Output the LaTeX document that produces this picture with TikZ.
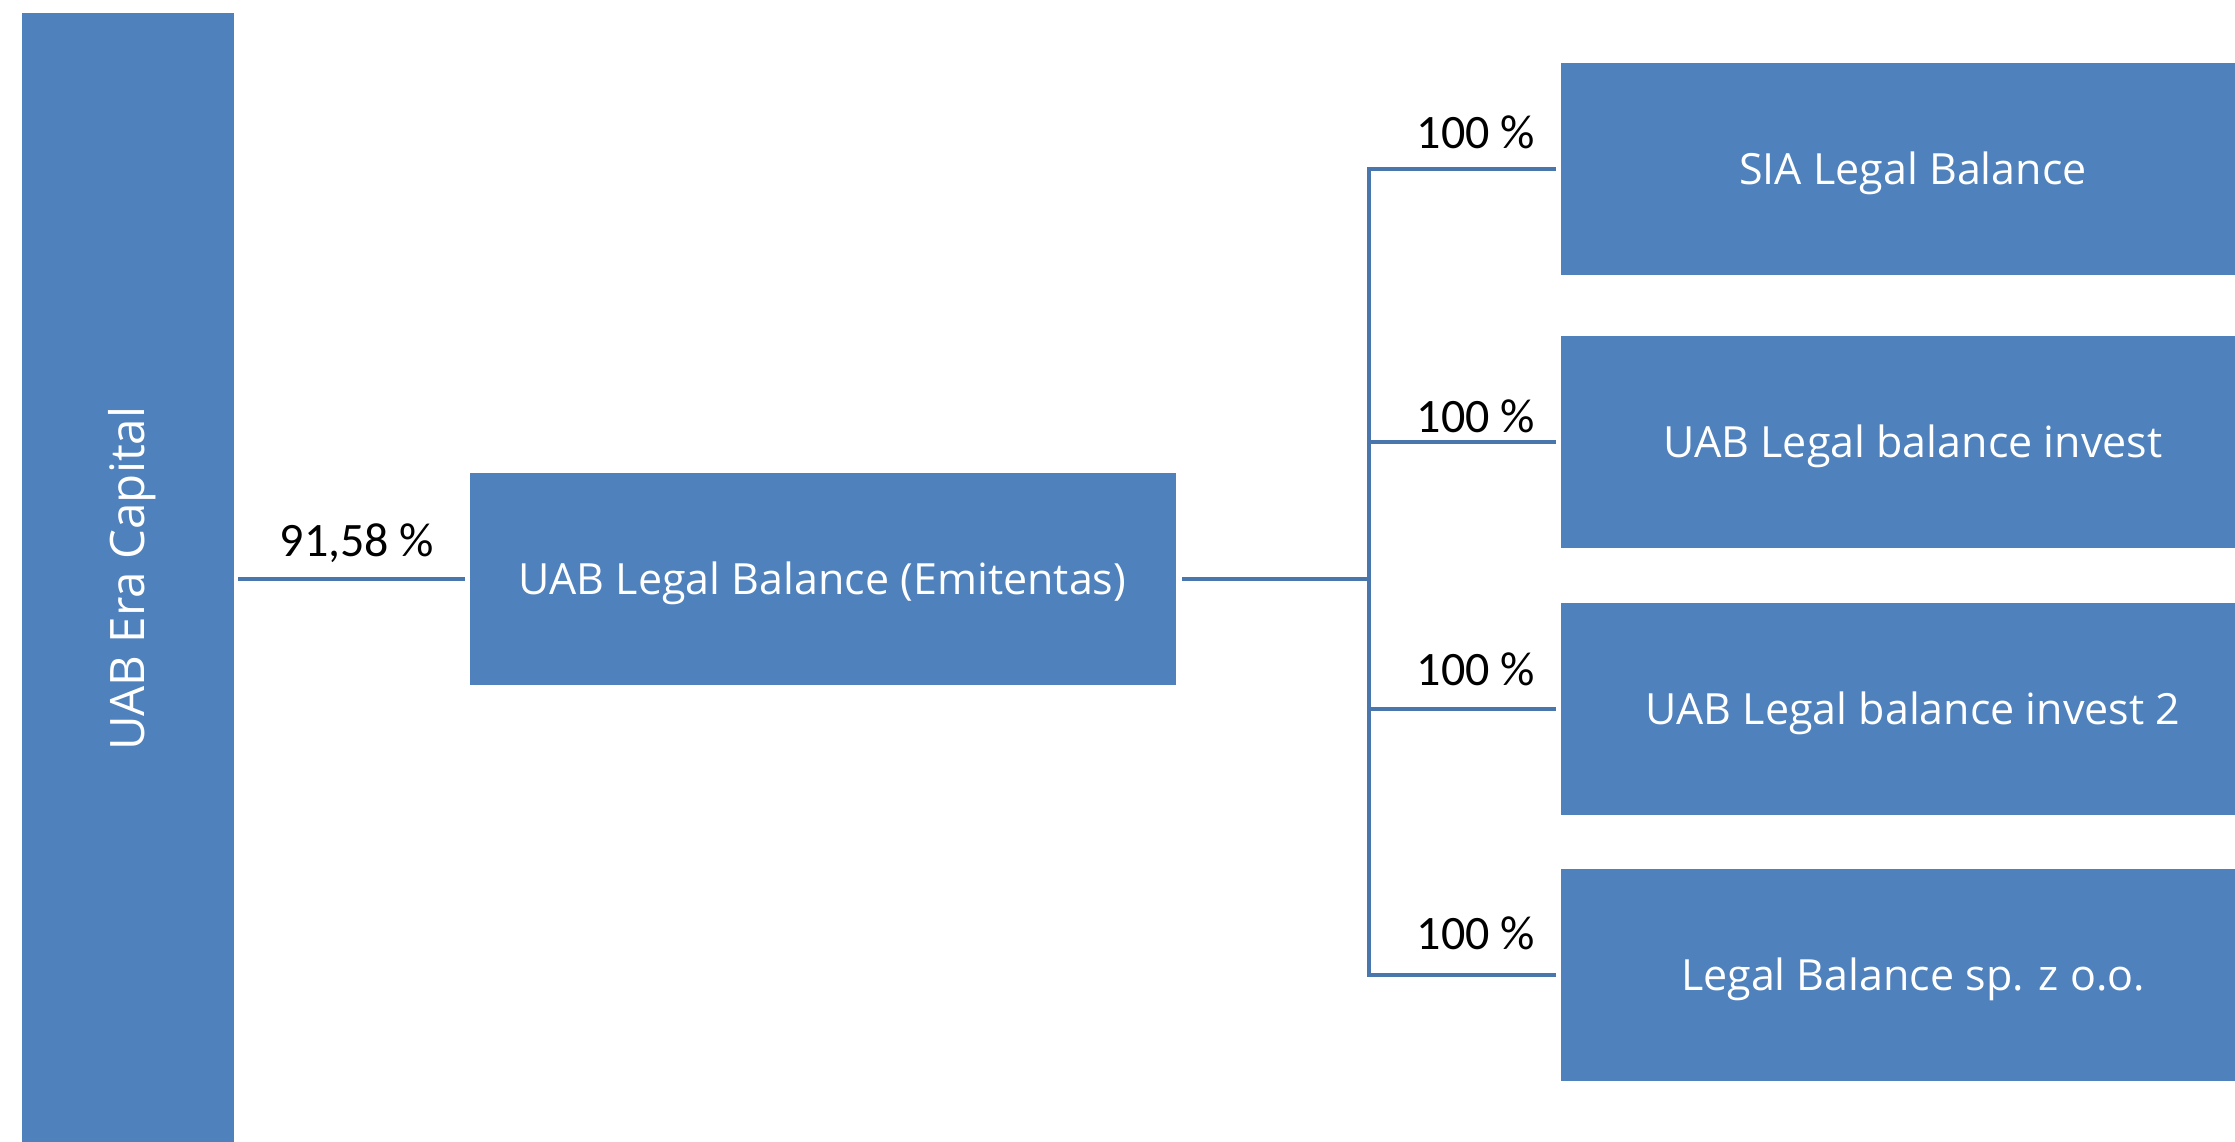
\documentclass[tikz,border=0pt]{standalone}
\usepackage{fontspec}
\setmainfont{Carlito}
\newfontfamily\boxfont{Open Sans}
\usetikzlibrary{calc}
\definecolor{boxblue}{HTML}{4F81BD}
\definecolor{lineblue}{HTML}{4A76AE}
\begin{document}
\begin{tikzpicture}[x=1pt,y=-1pt,
  orgbox/.style={rectangle, fill=boxblue, draw=boxblue, line width=0.5pt, inner sep=0pt,
    text=white, font=\boxfont\fontsize{43}{50}\selectfont, minimum width=704pt, minimum height=211pt},
  hbox/.style={orgbox, text height=31pt, text depth=0pt},
  conn/.style={draw=lineblue, line width=4pt},
  pct/.style={font=\fontsize{48}{56}\selectfont, text=black, inner sep=0pt, anchor=base}]
\useasboundingbox (0,0) rectangle (2235,1141);
\clip (0,0) rectangle (2235,1141);
\node[orgbox, font=\boxfont\fontsize{47.5}{55}\selectfont, minimum width=211pt, minimum height=1130pt] (era) at (127.5,578.5) {\rotatebox{90}{\raisebox{0pt}[34pt][0pt]{UAB Era Capital}}};
\node[hbox, minimum width=705pt] (lb) at (822.5,578.5) {UAB Legal Balance (Emitentas)};
\node[hbox] (s1) at (1913,168.5) {SIA Legal Balance};
\node[hbox] (s2) at (1913,441.5) {UAB Legal balance invest};
\node[hbox] (s3) at (1913,708.5) {UAB Legal balance invest 2};
\node[hbox] (s4) at (1913,974.5) {Legal Balance sp. z o.o.};
\coordinate (j) at (1369,578.5);
\draw[conn, shorten <=5pt, shorten >=5pt] (era.east |- lb.west) -- (lb.west);
\draw[conn, shorten <=7pt] (lb.east) -- (j);
\draw[conn, line cap=rect] (j |- s1.west) -- (j |- s4.west);
\foreach \s in {s1,s2,s3,s4}{
  \draw[conn, shorten >=5pt] (j |- \s.west) -- (\s.west);
}
\node[pct] (p0) at (357,556) {91,58 \%};
\node[pct] (p1) at (1476,148) {100 \%};
\node[pct] (p2) at (1476,432.5) {100 \%};
\node[pct] (p3) at (1476,685) {100 \%};
\node[pct] (p4) at (1476,949) {100 \%};
\end{tikzpicture}
\end{document}
